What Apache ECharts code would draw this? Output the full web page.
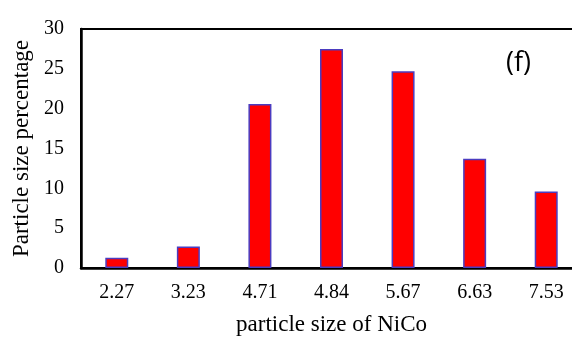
<!DOCTYPE html>
<html>
<head>
<meta charset="utf-8">
<script src="https://cdn.jsdelivr.net/npm/echarts@6/dist/echarts.min.js"></script>
<style>
html,body{margin:0;padding:0;background:#fff;}
#main{width:572px;height:338px;}
</style>
</head>
<body>
<div id="main"></div>
<script>
// particle sizes (x categories) and percentages
var sizes=['2.27','3.23','4.71','4.84','5.67','6.63','7.53'];
var percent=[1.3,2.7,20.6,27.5,24.7,13.7,9.6];
var yTicks=[0,30,5]; // min, max, step

var myChart=echarts.init(document.getElementById('main'));
var option={
    animation:false,
    grid:{
        left:81,
        top:29,
        right:-10,
        bottom:70,
        outerBoundsMode:'none',
        containLabel:false,
        show:true,
        borderColor:'#000',
        borderWidth:2
    },
    xAxis:{
        type:'category',
        data:sizes,
        name:'particle size of NiCo',
        nameLocation:'middle',
        nameGap:45,
        nameTextStyle:{fontFamily:'Liberation Serif',fontSize:23,color:'#000'},
        axisLine:{lineStyle:{color:'#000',width:2.5}},
        axisTick:{show:false},
        axisLabel:{fontFamily:'Liberation Serif',fontSize:20,color:'#000',margin:15}
    },
    yAxis:{
        type:'value',
        min:yTicks[0],
        max:yTicks[1],
        interval:yTicks[2],
        name:'Particle size percentage',
        nameLocation:'middle',
        nameGap:45,
        nameTextStyle:{fontFamily:'Liberation Serif',fontSize:23,color:'#000'},
        axisLine:{show:true,lineStyle:{color:'#000',width:2.5}},
        axisTick:{show:false},
        splitLine:{show:false},
        axisLabel:{fontFamily:'Liberation Serif',fontSize:20,color:'#000',margin:17}
    },
    series:[{
        type:'bar',
        data:percent,
        barWidth:23,
        itemStyle:{color:'#ff0000',borderColor:'#4b3cc0',borderWidth:1.5}
    }],
    graphic:[{
        type:'text',
        left:506,
        top:50,
        style:{text:'(f)',fontFamily:'Open Sans',fontSize:27,fill:'#000'}
    }]
};
myChart.setOption(option);
</script>
</body>
</html>
